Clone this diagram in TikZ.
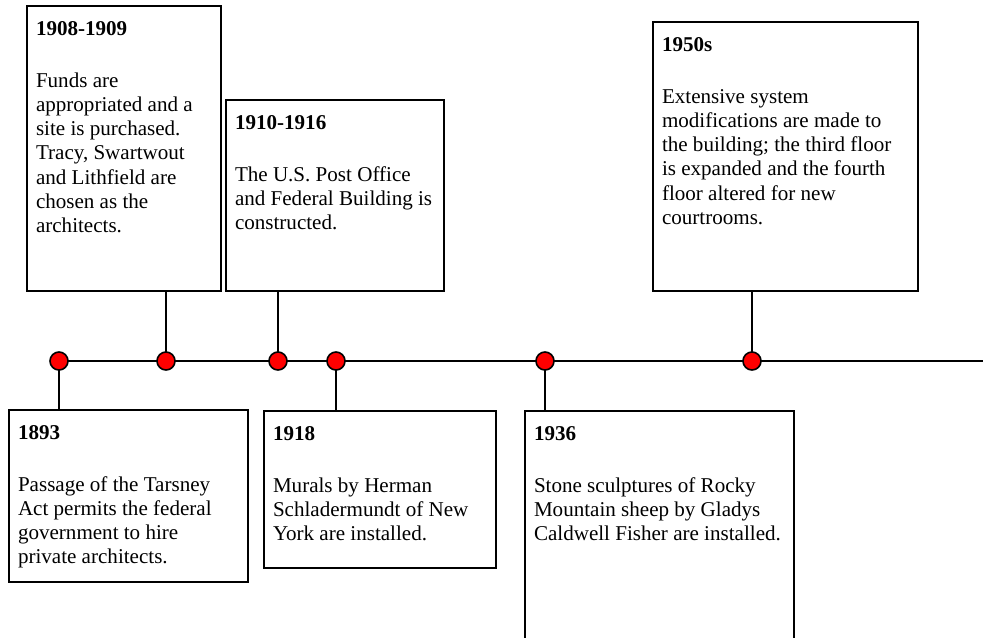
\documentclass[tikz,border=0pt]{standalone}
\usepackage{fontspec}
\setmainfont{Liberation Serif}
\newdimen\px \px=0.75pt
\newcommand{\evtext}[4]{\begin{minipage}[t][#2\px][t]{#1\px}\raggedright\leftskip=6.75pt\rightskip=-10pt plus 1fil
	\fontsize{15.8}{18.2}\selectfont\rule{0pt}{21.75pt}\textbf{#3}\\[20.8pt]#4\end{minipage}}
\tikzset{
	evbox/.style={draw, line width=1.5pt, anchor=north west, inner sep=0pt, outer sep=0pt},
	evdot/.style={circle, draw, fill=red, line width=1.2pt, minimum size=13.5pt, inner sep=0pt},
	evline/.style={line width=1.5pt}
}

\begin{document}
\begin{tikzpicture}[x=1\px, y=-1\px]
	\useasboundingbox (0,0) rectangle (983,637);
	\coordinate (t1893) at (59,361);
	\coordinate (t1908) at (166,361);
	\coordinate (t1910) at (278,361);
	\coordinate (t1918) at (336,361);
	\coordinate (t1936) at (545,361);
	\coordinate (t1950) at (752,361);
	\coordinate (tend) at (983,361);
	\node[evbox] (b1908) at (27,6) {\evtext{194}{285}{1908-1909}{Funds are\\ appropriated and a\\ site is purchased.\\ Tracy, Swartwout\\ and Lithfield are\\ chosen as the\\ architects.}};
	\node[evbox] (b1910) at (226,100) {\evtext{218}{191}{1910-1916}{The U.S. Post Office\\ and Federal Building is\\ constructed.}};
	\node[evbox] (b1950) at (653,22) {\evtext{265}{269}{1950s}{Extensive system\\ modifications are made to\\ the building; the third floor\\ is expanded and the fourth\\ floor altered for new\\ courtrooms.}};
	\node[evbox] (b1893) at (9,410) {\evtext{239}{172}{1893}{Passage of the Tarsney\\ Act permits the federal\\ government to hire\\ private architects.}};
	\node[evbox] (b1918) at (264,411) {\evtext{232}{157}{1918}{Murals by Herman\\ Schladermundt of New\\ York are installed.}};
	\node[evbox] (b1936) at (525,411) {\evtext{269}{240}{1936}{Stone sculptures of Rocky\\ Mountain sheep by Gladys\\ Caldwell Fisher are installed.}};
	\draw [evline] (t1893) -- (tend);
	\draw [evline] (t1893) -- (b1893.north -| t1893);
	\draw [evline] (t1908) -- (b1908.south -| t1908);
	\draw [evline] (t1910) -- (b1910.south -| t1910);
	\draw [evline] (t1918) -- (b1918.north -| t1918);
	\draw [evline] (t1936) -- (b1936.north -| t1936);
	\draw [evline] (t1950) -- (b1950.south -| t1950);
	\node[evdot] (d1893) at (t1893) {};
	\node[evdot] (d1908) at (t1908) {};
	\node[evdot] (d1910) at (t1910) {};
	\node[evdot] (d1918) at (t1918) {};
	\node[evdot] (d1936) at (t1936) {};
	\node[evdot] (d1950) at (t1950) {};
\end{tikzpicture}
\end{document}
